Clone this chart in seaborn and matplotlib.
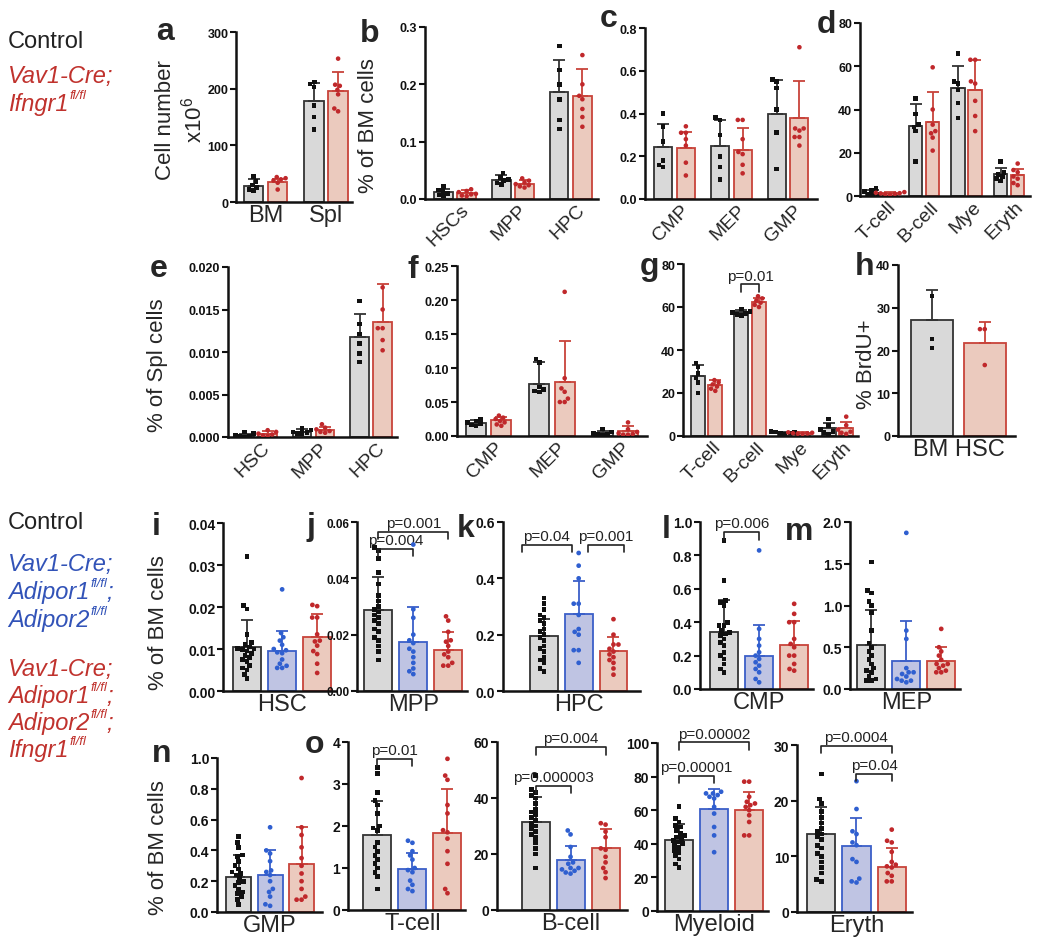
import numpy as np
import pandas as pd
import seaborn as sns
import matplotlib.pyplot as plt
from matplotlib.transforms import ScaledTranslation

# ---------------- data ----------------
top_groups = ["Control", "Ifngr1 KO"]
bot_groups = ["Control", "Adipor DKO", "Adipor/Ifngr1 TKO"]

# a  cell number x10^6
a_cats = ["BM", "Spl"]
a_mean = [[28, 178], [35, 196]]
a_sd = [[12, 32], [6, 33]]
a_pts = [[[45, 36, 30, 26, 22, 20], [212, 208, 203, 170, 150, 128]],
         [[44, 42, 40, 38, 34, 22], [253, 207, 205, 198, 190, 165, 160]]]

# b  % of BM cells
b_cats = ["HSCs", "MPP", "HPC"]
b_mean = [[0.012, 0.033, 0.187], [0.010, 0.027, 0.180]]
b_sd = [[0.006, 0.008, 0.055], [0.005, 0.006, 0.047]]
b_pts = [[[0.022, 0.016, 0.013, 0.010, 0.007, 0.005],
          [0.045, 0.038, 0.034, 0.032, 0.028, 0.025],
          [0.267, 0.225, 0.200, 0.174, 0.138, 0.122]],
         [[0.017, 0.014, 0.012, 0.009, 0.008, 0.006, 0.005],
          [0.036, 0.032, 0.029, 0.026, 0.024, 0.022, 0.020],
          [0.251, 0.200, 0.180, 0.174, 0.157, 0.143, 0.126]]]

# c
c_cats = ["CMP", "MEP", "GMP"]
c_mean = [[0.245, 0.25, 0.40], [0.24, 0.23, 0.38]]
c_sd = [[0.105, 0.12, 0.156], [0.075, 0.10, 0.17]]
c_pts = [[[0.40, 0.34, 0.27, 0.18, 0.15, 0.16],
          [0.38, 0.37, 0.30, 0.20, 0.15, 0.09],
          [0.56, 0.55, 0.52, 0.42, 0.31, 0.14]],
         [[0.34, 0.31, 0.31, 0.28, 0.25, 0.17, 0.11],
          [0.37, 0.37, 0.28, 0.22, 0.21, 0.16, 0.12],
          [0.71, 0.33, 0.33, 0.32, 0.29, 0.29, 0.25]]]

# d
d_cats = ["T-cell", "B-cell", "Mye", "Eryth"]
d_mean = [[1.5, 32.4, 50, 10], [1.2, 34.3, 49, 9.5]]
d_sd = [[1.5, 10, 10, 3], [0.6, 14, 14, 3]]
d_pts = [[[3.5, 2.5, 2, 1, 0.8, 0.5], [45, 38, 33, 32, 30, 16],
          [66, 53, 52, 49, 43, 36], [16, 11, 10, 9, 8, 7]],
         [[1.8, 1.5, 1.3, 1.2, 1.0, 0.8, 0.6], [59.5, 40, 33, 30, 29, 27, 21],
          [63, 63, 53, 52, 44, 37, 30], [15, 12, 11, 9, 8, 6, 5]]]

# e  % of Spl cells
e_cats = ["HSC", "MPP", "HPC"]
e_mean = [[0.0002, 0.0006, 0.0118], [0.0004, 0.0008, 0.0135]]
e_sd = [[0.0002, 0.0003, 0.0027], [0.0003, 0.0004, 0.0045]]
e_pts = [[[0.0006, 0.0004, 0.0002, 0.0001, 0.0001, 0.0],
          [0.0010, 0.0008, 0.0006, 0.0005, 0.0004, 0.0004],
          [0.0160, 0.0133, 0.0121, 0.0110, 0.0098, 0.0088]],
         [[0.0008, 0.0006, 0.0004, 0.0003, 0.0002, 0.0001],
          [0.0015, 0.0011, 0.0009, 0.0007, 0.0006, 0.0005],
          [0.0176, 0.0150, 0.0128, 0.0128, 0.0114, 0.0102]]]

# f
f_cats = ["CMP", "MEP", "GMP"]
f_mean = [[0.019, 0.0765, 0.004], [0.023, 0.080, 0.007]]
f_sd = [[0.004, 0.033, 0.004], [0.005, 0.060, 0.007]]
f_pts = [[[0.025, 0.022, 0.020, 0.018, 0.016, 0.015],
          [0.113, 0.108, 0.072, 0.068, 0.066, 0.065],
          [0.010, 0.006, 0.004, 0.002, 0.002, 0.001]],
         [[0.030, 0.027, 0.025, 0.022, 0.020, 0.017, 0.015],
          [0.212, 0.085, 0.070, 0.065, 0.055, 0.050, 0.050],
          [0.020, 0.010, 0.006, 0.004, 0.003, 0.002, 0.002]]]

# g
g_cats = ["T-cell", "B-cell", "Mye", "Eryth"]
g_mean = [[28, 57.5, 1.5, 3.5], [23.7, 62.5, 1.3, 3.5]]
g_sd = [[5, 1, 0.5, 2.5], [2.3, 1.5, 0.4, 3]]
g_pts = [[[34, 32, 29, 27, 25, 20], [59, 58, 57.5, 57, 56.5, 56],
          [2, 1.8, 1.5, 1.4, 1.2, 1.0], [8, 5, 3, 2, 1.5, 1]],
         [[26, 25, 24, 23, 22, 21], [65, 64, 63, 62, 61, 60],
          [1.7, 1.5, 1.3, 1.2, 1.1, 1.0], [9, 5, 3, 2, 1.5, 1]]]

# h  % BrdU+
h_cats = ["BM HSC"]
h_mean = [[27.1], [21.8]]
h_sd = [[7.1], [4.9]]
h_pts = [[[32.7, 22.7, 20.6]], [[25.0, 25.0, 16.6]]]

# i-o  (Control, Adipor DKO, Adipor/Ifngr1 TKO)
i_mean = [0.0105, 0.0095, 0.0128]
i_sd = [0.0063, 0.0049, 0.0056]
i_pts = [[0.032, 0.0203, 0.0195, 0.0135, 0.0115, 0.011, 0.0105, 0.0102, 0.010, 0.0098,
          0.0095, 0.009, 0.0085, 0.008, 0.0075, 0.007, 0.006, 0.0055, 0.005, 0.004, 0.003],
         [0.0242, 0.0138, 0.0128, 0.012, 0.011, 0.010, 0.0097, 0.0092, 0.009, 0.0075,
          0.0065, 0.006, 0.0055, 0.0055],
         [0.0205, 0.0202, 0.0175, 0.0175, 0.0135, 0.012, 0.0118, 0.0108, 0.0095, 0.0088,
          0.0065, 0.0043]]

j_mean = [0.0289, 0.0175, 0.0145]
j_sd = [0.0116, 0.0122, 0.0065]
j_pts = [[0.051, 0.050, 0.047, 0.042, 0.038, 0.034, 0.032, 0.030, 0.029, 0.028, 0.027,
          0.026, 0.025, 0.024, 0.022, 0.021, 0.019, 0.018, 0.016, 0.014, 0.011],
         [0.052, 0.029, 0.026, 0.020, 0.018, 0.017, 0.015, 0.014, 0.012, 0.010, 0.008,
          0.007, 0.006],
         [0.0265, 0.025, 0.021, 0.018, 0.0175, 0.016, 0.014, 0.013, 0.012, 0.010, 0.009, 0.009]]

k_mean = [0.195, 0.275, 0.141]
k_sd = [0.06, 0.115, 0.052]
k_pts = [[0.33, 0.31, 0.29, 0.27, 0.26, 0.25, 0.24, 0.22, 0.21, 0.20, 0.19, 0.18, 0.16,
          0.15, 0.14, 0.12, 0.11, 0.10, 0.08, 0.07],
         [0.49, 0.445, 0.40, 0.31, 0.31, 0.27, 0.22, 0.21, 0.20, 0.145, 0.145, 0.10],
         [0.255, 0.20, 0.165, 0.165, 0.15, 0.14, 0.13, 0.12, 0.11, 0.10, 0.08, 0.058]]

l_mean = [0.34, 0.196, 0.266]
l_sd = [0.19, 0.19, 0.142]
l_pts = [[0.89, 0.65, 0.53, 0.52, 0.50, 0.40, 0.38, 0.38, 0.35, 0.34, 0.33, 0.32, 0.30,
          0.28, 0.26, 0.22, 0.20, 0.18, 0.15, 0.12, 0.10],
         [0.83, 0.36, 0.30, 0.26, 0.22, 0.20, 0.18, 0.16, 0.14, 0.12, 0.10, 0.06, 0.04],
         [0.51, 0.45, 0.40, 0.40, 0.30, 0.27, 0.25, 0.20, 0.20, 0.15, 0.12, 0.11]]

m_mean = [0.53, 0.34, 0.33]
m_sd = [0.42, 0.47, 0.17]
m_pts = [[1.52, 1.18, 1.15, 1.05, 1.00, 0.92, 0.70, 0.55, 0.50, 0.45, 0.40, 0.35, 0.30,
          0.25, 0.22, 0.20, 0.15, 0.12, 0.10, 0.10],
         [1.87, 0.70, 0.60, 0.25, 0.20, 0.20, 0.18, 0.15, 0.12, 0.10, 0.10, 0.08],
         [0.72, 0.50, 0.45, 0.40, 0.35, 0.30, 0.30, 0.28, 0.25, 0.22, 0.20, 0.20]]

n_mean = [0.227, 0.238, 0.313]
n_sd = [0.14, 0.162, 0.24]
n_pts = [[0.49, 0.45, 0.42, 0.37, 0.36, 0.33, 0.30, 0.28, 0.26, 0.25, 0.24, 0.22, 0.20,
          0.19, 0.17, 0.15, 0.13, 0.12, 0.10, 0.08, 0.05],
         [0.55, 0.40, 0.38, 0.33, 0.27, 0.26, 0.24, 0.20, 0.15, 0.13, 0.10, 0.05, 0.04],
         [0.87, 0.55, 0.50, 0.42, 0.35, 0.30, 0.25, 0.20, 0.15, 0.10, 0.08, 0.08]]

t_mean = [1.78, 0.98, 1.83]
t_sd = [0.82, 0.37, 1.05]
t_pts = [[3.4, 3.25, 2.8, 2.6, 2.5, 2.3, 2.0, 1.95, 1.9, 1.6, 1.5, 1.4, 1.3, 1.2, 1.1,
          1.0, 0.9, 0.8, 0.5],
         [1.65, 1.6, 1.4, 1.3, 1.2, 1.0, 0.95, 0.9, 0.7, 0.6, 0.5, 0.45],
         [3.6, 3.2, 3.1, 2.5, 2.3, 1.9, 1.85, 1.7, 1.4, 1.1, 0.5, 0.4]]

bc_mean = [31.6, 17.8, 22.0]
bc_sd = [8.9, 4.9, 6.8]
bc_pts = [[48, 43, 42, 41, 40, 38, 36, 35, 34, 33, 32, 31, 30, 29, 28, 27, 26, 24, 22, 20, 15],
          [28.4, 27, 22.5, 19, 17, 16.5, 15, 15, 14.5, 14, 13.4, 13],
          [31, 30.5, 28, 26, 22, 21.5, 19, 17, 15, 13.5, 11.4]]

my_mean = [42.1, 61.0, 60.0]
my_sd = [9.6, 11.6, 11.0]
my_pts = [[62, 55, 53, 51, 50, 48, 46, 45, 44, 43, 42, 41, 40, 39, 38, 36, 35, 33, 31, 28, 26],
          [71, 70, 70, 69, 68, 67, 62, 58, 50, 45, 35],
          [77, 77, 68, 65, 64, 63, 62, 60, 57, 53, 45, 45]]

er_mean = [14.0, 11.9, 8.1]
er_sd = [4.8, 5.0, 3.4]
er_pts = [[24.8, 20.3, 19.5, 18, 17, 16, 15, 14.5, 14, 13.5, 13, 12, 11.5, 10.5, 10, 9, 8,
           7, 5.8, 5.5],
          [23.5, 18.5, 14.5, 14, 12.5, 12, 9.5, 9, 6, 5.5, 5.3],
          [14.8, 12.8, 12.5, 10.8, 9, 8.5, 8.2, 8, 7, 6.5, 5.5, 5.5]]

# ---------------- style ----------------
sns.set_style("ticks")
plt.rcParams["font.family"] = ["Liberation Sans", "DejaVu Sans"]
plt.rcParams["mathtext.fontset"] = "custom"
plt.rcParams["mathtext.rm"] = "Liberation Sans"
plt.rcParams["mathtext.it"] = "Liberation Sans:italic"
plt.rcParams["mathtext.bf"] = "Liberation Sans:bold"

RED_TXT = "#c0322d"
BLUE_TXT = "#3253b8"
FILL = {"Control": "#d9d9d9", "Ifngr1 KO": "#f3c6b6",
        "Adipor DKO": "#b9c0e9", "Adipor/Ifngr1 TKO": "#f3c6b6"}
EDGE = {"Control": "#333333", "Ifngr1 KO": "#c8433a",
        "Adipor DKO": "#3b5fc8", "Adipor/Ifngr1 TKO": "#c8433a"}
DOT = {"Control": "#111111", "Ifngr1 KO": "#c0282b",
       "Adipor DKO": "#2f5fd0", "Adipor/Ifngr1 TKO": "#c0282b"}
MARK = {"Control": "s", "Ifngr1 KO": "o", "Adipor DKO": "o", "Adipor/Ifngr1 TKO": "o"}

W, H = 1050, 945
fig = plt.figure(figsize=(W / 100, H / 100), dpi=100)
# an empty full-figure axes on top of everything, holding the free text
lax = fig.add_axes([0, 0, 1, 1])
lax.set_xlim(0, W)
lax.set_ylim(H, 0)
lax.axis("off")
lax.set_zorder(10)


def px_axes(left, right, top, bottom):
    return fig.add_axes([left / W, 1 - bottom / H, (right - left) / W, (bottom - top) / H])


def bar_panel(ax, cats, groups, means, sds, pts, dot_size):
    rows = [(c, g, means[gi][ci]) for gi, g in enumerate(groups) for ci, c in enumerate(cats)]
    summary = pd.DataFrame(rows, columns=["cat", "grp", "mean"])
    sns.barplot(data=summary, x="cat", y="mean", hue="grp", order=cats, hue_order=groups,
                palette=FILL, errorbar=None, width=0.8, gap=0.2, legend=False, ax=ax)
    centers = {}
    for gi, g in enumerate(groups):
        for ci, bar in enumerate(ax.containers[gi]):
            bar.set_edgecolor(EDGE[g])
            bar.set_linewidth(1.3)
            centers[gi, ci] = bar.get_x() + bar.get_width() / 2
    for (gi, ci), x in centers.items():
        ax.errorbar([x], [means[gi][ci]], yerr=[[0], [sds[gi][ci]]], fmt="none",
                    ecolor=EDGE[groups[gi]], elinewidth=1.3, capsize=4, capthick=1.3, zorder=3)
    rows = [(c, g, v) for gi, g in enumerate(groups) for ci, c in enumerate(cats)
            for v in pts[gi][ci]]
    long = pd.DataFrame(rows, columns=["cat", "grp", "val"])
    for g in groups:
        sns.swarmplot(data=long[long["grp"] == g], x="cat", y="val", hue="grp", order=cats,
                      hue_order=groups, palette=DOT, dodge=True, marker=MARK[g], size=dot_size,
                      linewidth=0, legend=False, warn_thresh=1, ax=ax, zorder=4)
    return centers


def style_panel(ax, cats, xlim, ytop, nticks, fmt, tick_fs, cat_fs, rot=False):
    ax.set_xlim(*xlim)
    ax.set_ylim(0, ytop)
    ticks = np.linspace(0, ytop, nticks + 1)
    ax.set_yticks(ticks, labels=[fmt.format(t) for t in ticks], fontsize=tick_fs,
                  fontweight="bold")
    ax.set_xticks(range(len(cats)), labels=cats, fontsize=cat_fs)
    ax.set_xlabel("")
    ax.set_ylabel("")
    sns.despine(ax=ax)
    for s in ("left", "bottom"):
        ax.spines[s].set_linewidth(1.8)
        ax.spines[s].set_color("#111111")
    ax.tick_params(axis="y", length=4, width=1.5, pad=1.5, colors="#111111")
    ax.tick_params(axis="x", length=0, pad=1.5)
    if rot:
        for lbl in ax.get_xticklabels():
            lbl.set_rotation(45)
            lbl.set_ha("right")
            lbl.set_va("top")
            lbl.set_rotation_mode("anchor")
            lbl.set_transform(lbl.get_transform()
                              + ScaledTranslation(4 / 72, 0, fig.dpi_scale_trans))


def bracket(ax, x1, x2, y, ytop, text):
    drop = 0.045 * ytop
    ax.plot([x1, x1, x2, x2], [y - drop, y, y, y - drop], color="#222222", lw=1.2,
            clip_on=False, zorder=5)
    ax.text((x1 + x2) / 2, y + 0.010 * ytop, text, ha="center", va="bottom", fontsize=11,
            color="#222222", clip_on=False)


def genotype(x, y, name, color, sup=None, tail=""):
    """italic gene name with a small fl/fl superscript and optional trailing ';'"""
    main = lax.text(x, y, name, fontsize=17, color=color, style="italic", va="baseline")
    if sup is None:
        return
    s = lax.annotate(sup, xy=(1, 0.62), xycoords=main, xytext=(0.5, 0),
                     textcoords="offset points", fontsize=9.5, color=color, style="italic",
                     va="bottom", ha="left")
    if tail:
        lax.annotate(tail, xy=(1, 0), xycoords=(s, main), fontsize=17, color=color,
                     style="italic", va="bottom", ha="left")


# ---------------- top two rows ----------------
top_panels = [
    # cats, means, sds, pts, (left, right, top, bottom), xlim, ytop, nticks, fmt, rot
    (a_cats, a_mean, a_sd, a_pts, (236, 352, 33, 203), (-0.49, 1.43), 300, 3, "{:.0f}", False),
    (b_cats, b_mean, b_sd, b_pts, (425, 598, 28, 200), (-0.52, 2.47), 0.3, 3, "{:.1f}", True),
    (c_cats, c_mean, c_sd, c_pts, (645, 817, 29, 200), (-0.52, 2.51), 0.8, 4, "{:.1f}", True),
    (d_cats, d_mean, d_sd, d_pts, (860, 1030, 24, 197), (-0.51, 3.49), 80, 4, "{:.0f}", True),
    (e_cats, e_mean, e_sd, e_pts, (228, 397, 268, 438), (-0.49, 2.45), 0.02, 4, "{:.3f}", True),
    (f_cats, f_mean, f_sd, f_pts, (457, 647, 267, 437), (-0.5, 2.5), 0.25, 5, "{:.2f}", True),
    (g_cats, g_mean, g_sd, g_pts, (683, 858, 265, 437), (-0.54, 3.47), 80, 4, "{:.0f}", True),
    (h_cats, h_mean, h_sd, h_pts, (898, 1015, 266, 437), (-0.46, 0.43), 40, 4, "{:.0f}", False),
]
top_axes = []
for cats, means, sds, pts, box, xlim, ytop, nt, fmt, rot in top_panels:
    ax = px_axes(*box)
    cen = bar_panel(ax, cats, top_groups, means, sds, pts, 3.3)
    style_panel(ax, cats, xlim, ytop, nt, fmt, 9, 14 if rot else 17, rot)
    top_axes.append((ax, cen, ytop))

ax_g, cen_g, _ = top_axes[6]
bracket(ax_g, cen_g[0, 1], cen_g[1, 1], 70.5, 80, "p=0.01")

# ---------------- bottom two rows ----------------
bot_panels = [
    # label, means, sds, pts, box, xlim, ytop, nticks, fmt, tick fs,
    # brackets (group a, group b, height, text, shift of left end, shift of right end)
    ("HSC", i_mean, i_sd, i_pts, (223, 336, 524, 692), (-0.45, 0.41), 0.04, 4, "{:.2f}", 10, []),
    ("MPP", j_mean, j_sd, j_pts, (357, 467, 523, 692), (-0.43, 0.41), 0.06, 3, "{:.2f}", 8.5,
     [(0, 1, 0.0505, "p=0.004", 0, 0), (0, 2, 0.0565, "p=0.001", 0, 0)]),
    ("HPC", k_mean, k_sd, k_pts, (503, 640, 523, 692), (-0.58, 0.47), 0.6, 3, "{:.1f}", 10,
     [(0, 1, 0.52, "p=0.04", -0.17, -0.05), (1, 2, 0.52, "p=0.001", 0.07, 0.08)]),
    ("CMP", l_mean, l_sd, l_pts, (700, 813, 523, 690), (-0.45, 0.41), 1.0, 5, "{:.1f}", 10,
     [(0, 1, 0.94, "p=0.006", 0, 0)]),
    ("MEP", m_mean, m_sd, m_pts, (850, 960, 523, 690), (-0.43, 0.41), 2.0, 4, "{:.1f}", 10, []),
    ("GMP", n_mean, n_sd, n_pts, (217, 322, 759, 913), (-0.45, 0.44), 1.0, 5, "{:.1f}", 10, []),
    ("T-cell", t_mean, t_sd, t_pts, (348, 465, 743, 911), (-0.49, 0.4), 4, 4, "{:.0f}", 10,
     [(0, 1, 3.6, "p=0.01", 0, 0)]),
    ("B-cell", bc_mean, bc_sd, bc_pts, (497, 627, 743, 911), (-0.56, 0.43), 60, 3, "{:.0f}", 10,
     [(0, 1, 44.4, "p=0.000003", 0, 0), (0, 2, 58.2, "p=0.004", 0, 0)]),
    ("Myeloid", my_mean, my_sd, my_pts, (657, 768, 744, 912), (-0.435, 0.41), 100, 5, "{:.0f}",
     10, [(0, 1, 80.5, "p=0.00001", 0, 0), (0, 2, 100.4, "p=0.00002", 0, 0)]),
    ("Eryth", er_mean, er_sd, er_pts, (797, 912, 746, 913), (-0.45, 0.42), 30, 3, "{:.0f}", 10,
     [(0, 2, 29.9, "p=0.0004", 0, 0), (1, 2, 24.8, "p=0.04", 0, 0)]),
]
for label, means, sds, pts, box, xlim, ytop, nt, fmt, tfs, brs in bot_panels:
    ax = px_axes(*box)
    cen = bar_panel(ax, [label], bot_groups, [[m] for m in means], [[s] for s in sds],
                    [[p] for p in pts], 3.4)
    style_panel(ax, [label], xlim, ytop, nt, fmt, tfs, 17)
    for g1, g2, y, txt, dx1, dx2 in brs:
        bracket(ax, cen[g1, 0] + dx1, cen[g2, 0] + dx2, y, ytop, txt)

# ---------------- panel letters ----------------
letters = [("a", 156, 40), ("b", 360, 42), ("c", 600, 27), ("d", 817, 33),
           ("e", 150, 277), ("f", 407, 278), ("g", 640, 275), ("h", 855, 275),
           ("i", 152, 535), ("j", 307, 535), ("k", 457, 537), ("l", 662, 538),
           ("m", 785, 540), ("n", 152, 762), ("o", 305, 753)]
for s, x, y in letters:
    lax.text(x, y, s, fontsize=23, fontweight="bold", ha="left", va="baseline")

# ---------------- y labels ----------------
ylabels = [("Cell number\nx10$^{\\mathregular{6}}$", 181, 120), ("% of BM cells", 369, 126),
           ("% of Spl cells", 158, 365), ("% BrdU+", 866, 364),
           ("% of BM cells", 158, 623), ("% of BM cells", 158, 848)]
for s, x, y in ylabels:
    lax.text(x, y, s, fontsize=16, rotation=90, ha="center", va="center",
             multialignment="center")

# ---------------- genotype legends ----------------
lax.text(8, 48, "Control", fontsize=17, color="#222222", va="baseline")
genotype(8, 83, "Vav1-Cre;", RED_TXT)
genotype(8, 111, "Ifngr1", RED_TXT, "fl/fl")

lax.text(8, 529, "Control", fontsize=17, color="#222222", va="baseline")
genotype(8, 571, "Vav1-Cre;", BLUE_TXT)
genotype(8, 599, "Adipor1", BLUE_TXT, "fl/fl", ";")
genotype(8, 627, "Adipor2", BLUE_TXT, "fl/fl")
genotype(8, 676, "Vav1-Cre;", RED_TXT)
genotype(8, 703, "Adipor1", RED_TXT, "fl/fl", ";")
genotype(8, 730, "Adipor2", RED_TXT, "fl/fl", ";")
genotype(8, 757, "Ifngr1", RED_TXT, "fl/fl")

fig.savefig("out.png", dpi=100)
